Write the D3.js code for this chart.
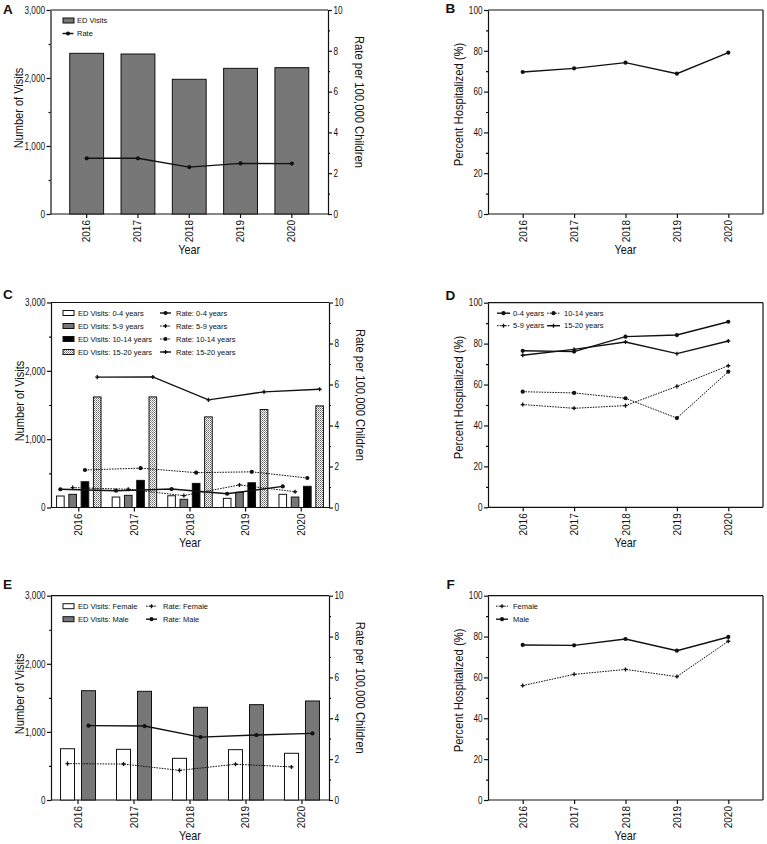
<!DOCTYPE html>
<html>
<head>
<meta charset="utf-8">
<script src="https://cdn.jsdelivr.net/npm/d3@7"></script>
<style>
body { margin: 0; background: #fff; }
</style>
</head>
<body>
<script>
var years = ['2016', '2017', '2018', '2019', '2020'];

// A / B: all ages
var visitsAll = [2363, 2353, 1981, 2142, 2152];
var rateAll = [2.73, 2.73, 2.30, 2.48, 2.47];
var hospAll = [69.6, 71.4, 74.2, 68.8, 79.1];

// C / D: by age group
var ageGroups = ['0-4 years', '5-9 years', '10-14 years', '15-20 years'];
var visits0to4 = [168, 153, 172, 134, 193];
var visits5to9 = [193, 178, 120, 222, 153];
var visits10to14 = [377, 397, 353, 362, 310];
var visits15to20 = [1618, 1618, 1326, 1434, 1487];
var rate0to4 = [0.89, 0.82, 0.90, 0.67, 1.03];
var rate5to9 = [0.97, 0.89, 0.58, 1.10, 0.77];
var rate10to14 = [1.83, 1.92, 1.70, 1.74, 1.44];
var rate15to20 = [6.36, 6.37, 5.25, 5.64, 5.77];
var hosp0to4 = [76.5, 76.1, 83.4, 84.2, 90.7];
var hosp5to9 = [50.2, 48.4, 49.7, 59.1, 69.2];
var hosp10to14 = [56.5, 55.9, 53.3, 43.6, 66.3];
var hosp15to20 = [74.3, 77.2, 80.8, 75.1, 81.3];

// E / F: by sex
var sexes = ['Female', 'Male'];
var visitsFemale = [753, 744, 612, 739, 686];
var visitsMale = [1605, 1596, 1361, 1400, 1454];
var rateFemale = [1.78, 1.76, 1.45, 1.75, 1.62];
var rateMale = [3.64, 3.62, 3.08, 3.18, 3.26];
var hospFemale = [56.0, 61.5, 63.9, 60.4, 77.7];
var hospMale = [75.9, 75.7, 78.8, 73.1, 79.8];

// axis ticks
var visitTicks = [0, 1000, 2000, 3000];
var visitMinor = [500, 1500, 2500];
var rateTicks = [0, 2, 4, 6, 8, 10];
var rateMinor = [1, 3, 5, 7, 9];
var pctTicks = [0, 20, 40, 60, 80, 100];
var pctMinor = [10, 30, 50, 70, 90];

var font = '"Liberation Sans", Arial, Helvetica, sans-serif';
var ink = '#111';
var grey = '#777';
var squeeze = 0.82; // the figure's text is set in a narrow face

var svg = d3.select('body').append('svg')
    .attr('width', 767)
    .attr('height', 844);

var pat = svg.append('defs').append('pattern')
    .attr('id', 'stipple')
    .attr('patternUnits', 'userSpaceOnUse')
    .attr('width', 2)
    .attr('height', 2);
pat.append('rect').attr('width', 2).attr('height', 2).attr('fill', '#fff');
pat.append('rect').attr('width', 1).attr('height', 1).attr('fill', '#666');
pat.append('rect').attr('x', 1).attr('y', 1).attr('width', 1).attr('height', 1).attr('fill', '#999');

function styleAxis(g, size) {
    g.attr('font-family', font).attr('font-size', size);
    g.selectAll('path, line').attr('stroke', ink).attr('stroke-width', 1.2);
    g.selectAll('text').attr('fill', ink);
}

function squeezeTicks(ax, side) {
    ax.selectAll('.tick text')
	.attr('x', side * 5.5 / squeeze)
	.attr('transform', 'scale(' + squeeze + ',1)');
}

function addText(g, x, y, str, size, anchor, rot, sq) {
    var t = g.append('text')
	.attr('transform', 'translate(' + x + ',' + y + ')' +
	      (rot ? ' rotate(' + rot + ')' : '') +
	      (sq ? ' scale(' + sq + ',1)' : ''))
	.attr('font-family', font)
	.attr('font-size', size)
	.attr('fill', ink)
	.attr('text-anchor', anchor || 'start')
	.text(str);
    return t;
}

// frame: left axis, top border, x axis, titles, panel letter
function drawFrame(box, x, y, major, minor, fmt, title, letter, letterPos) {
    var g = svg.append('g');
    var mid = (box.t + box.b) / 2;

    var ax = g.append('g').attr('transform', 'translate(' + box.l + ',0)');
    ax.append('g')
	.call(d3.axisLeft(y).tickValues(minor).tickSize(2).tickFormat(''))
	.select('.domain').remove();
    ax.append('g')
	.call(d3.axisLeft(y).tickValues(major).tickSize(4).tickSizeOuter(0)
	      .tickPadding(1.5).tickFormat(fmt));
    styleAxis(ax, 10);
    squeezeTicks(ax, -1);

    var xa = g.append('g').attr('transform', 'translate(0,' + box.b + ')');
    xa.call(d3.axisBottom(x).tickSize(4).tickSizeOuter(0));
    xa.select('.domain').attr('d', 'M' + box.l + ',0H' + box.r);
    xa.selectAll('.tick text')
	.attr('transform', 'rotate(-90)')
	.attr('text-anchor', 'end')
	.attr('x', -6)
	.attr('y', 0)
	.attr('dy', '0.35em');
    styleAxis(xa, 10);

    g.append('line')
	.attr('x1', box.l).attr('x2', box.r)
	.attr('y1', box.t).attr('y2', box.t)
	.attr('stroke', ink).attr('stroke-width', 1.2);

    if (title === 'Number of Visits') {
	addText(g, box.l - 27.5, mid - 4, title, 13, 'middle', -90, 0.85);
    } else {
	addText(g, box.l - 25.5, mid - 7.5, title, 12.5, 'middle', -90, 0.9);
    }
    addText(g, (box.l + box.r) / 2, box.b + 39.5, 'Year', 12, 'middle', 0, 0.9);
    addText(g, letterPos[0], letterPos[1], letter, 13.5, 'start').attr('font-weight', 'bold');
    return g;
}

function drawRightAxis(g, box, yR) {
    var ax = g.append('g').attr('transform', 'translate(' + box.r + ',0)');
    ax.append('g')
	.call(d3.axisRight(yR).tickValues(rateMinor).tickSize(2).tickFormat(''))
	.select('.domain').remove();
    ax.append('g')
	.call(d3.axisRight(yR).tickValues(rateTicks).tickSize(4).tickSizeOuter(0)
	      .tickPadding(1.5).tickFormat(d3.format('d')));
    styleAxis(ax, 10);
    squeezeTicks(ax, 1);
    addText(g, box.r + 27, (box.t + box.b) / 2 - 10, 'Rate per 100,000 Children', 12, 'middle', 90, 0.94);
}

function drawRightBorder(g, box) {
    g.append('line')
	.attr('x1', box.r).attr('x2', box.r)
	.attr('y1', box.t).attr('y2', box.b)
	.attr('stroke', ink).attr('stroke-width', 1.2);
}

function drawMarker(g, kind, cx, cy) {
    if (kind === 'circle') {
	g.append('circle').attr('cx', cx).attr('cy', cy).attr('r', 2.1).attr('fill', ink);
    } else {
	g.append('path')
	    .attr('d', d3.symbol(d3.symbolCross, 9)())
	    .attr('transform', 'translate(' + cx + ',' + cy + ')')
	    .attr('fill', ink);
    }
}

function drawBars(g, x, xIn, y, keys, seriesList, fills) {
    keys.forEach(function(k, i) {
	g.selectAll(null)
	    .data(seriesList[i])
	    .enter().append('rect')
	    .attr('x', function(d, j) { return x(years[j]) + xIn(k); })
	    .attr('y', function(d) { return y(d); })
	    .attr('width', xIn.bandwidth())
	    .attr('height', function(d) { return y(0) - y(d); })
	    .attr('fill', fills[i])
	    .attr('stroke', ink)
	    .attr('stroke-width', 1);
    });
}

function drawLine(g, xf, y, values, dashed, marker) {
    var line = d3.line()
	.x(function(d, j) { return xf(j); })
	.y(function(d) { return y(d); });
    g.append('path')
	.datum(values)
	.attr('d', line)
	.attr('fill', 'none')
	.attr('stroke', ink)
	.attr('stroke-width', dashed ? 1 : 1.4)
	.attr('stroke-dasharray', dashed ? '1.6,1.1' : null);
    values.forEach(function(v, j) {
	drawMarker(g, marker, xf(j), y(v));
    });
}

// legend entries: bar swatch or line sample
function legendBar(g, x, y, fill, label, textX) {
    g.append('rect')
	.attr('x', x).attr('y', y - 2.5)
	.attr('width', 11).attr('height', 5)
	.attr('fill', fill).attr('stroke', ink).attr('stroke-width', 1);
    addText(g, textX, y, label, 7.5).attr('dy', '0.35em');
}

function legendLine(g, x, w, y, dashed, marker, label, textX) {
    g.append('line')
	.attr('x1', x).attr('x2', x + w)
	.attr('y1', y).attr('y2', y)
	.attr('stroke', ink)
	.attr('stroke-width', dashed ? 1 : 1.4)
	.attr('stroke-dasharray', dashed ? '1.6,1.1' : null);
    drawMarker(g, marker, x + w / 2, y);
    addText(g, textX, y, label, 7.5).attr('dy', '0.35em');
}

function bandCenter(x, xIn, key) {
    return function(j) { return x(years[j]) + xIn(key) + xIn.bandwidth() / 2; };
}

// ---------- Panel A ----------
(function() {
    var box = {l: 50.5, r: 328, t: 10, b: 214};
    var x = d3.scaleBand().domain(years).range([box.l, box.r]).paddingInner(0.34).paddingOuter(0.375);
    var y = d3.scaleLinear().domain([0, 3000]).range([box.b, box.t]);
    var yR = d3.scaleLinear().domain([0, 10]).range([box.b, box.t]);
    var xIn = d3.scaleBand().domain(['all']).range([0, x.bandwidth()]);
    var g = drawFrame(box, x, y, visitTicks, visitMinor, d3.format(','), 'Number of Visits', 'A', [3, 13.5]);
    drawRightAxis(g, box, yR);
    drawBars(g, x, xIn, y, ['all'], [visitsAll], [grey]);
    drawLine(g, bandCenter(x, xIn, 'all'), yR, rateAll, false, 'circle');
    var ly = box.t + 10.5;
    legendBar(g, 63, ly, grey, 'ED Visits', 77);
    legendLine(g, 62.5, 11, ly + 13, false, 'circle', 'Rate', 77);
})();

// ---------- Panel B ----------
(function() {
    var box = {l: 488, r: 763, t: 10, b: 214};
    var x = d3.scalePoint().domain(years).range([box.l, box.r]).padding(0.675);
    var y = d3.scaleLinear().domain([0, 100]).range([box.b, box.t]);
    var g = drawFrame(box, x, y, pctTicks, pctMinor, d3.format('d'), 'Percent Hospitalized (%)', 'B', [445.5, 13]);
    drawRightBorder(g, box);
    drawLine(g, function(j) { return x(years[j]); }, y, hospAll, false, 'circle');
})();

// ---------- Panel C ----------
(function() {
    var box = {l: 51, r: 329, t: 302.5, b: 507.5};
    var x = d3.scaleBand().domain(years).range([box.l, box.r]).paddingInner(0.2).paddingOuter(0.1);
    var y = d3.scaleLinear().domain([0, 3000]).range([box.b, box.t]);
    var yR = d3.scaleLinear().domain([0, 10]).range([box.b, box.t]);
    var xIn = d3.scaleBand().domain(ageGroups).range([0, x.bandwidth()]).paddingInner(0.38);
    var fills = ['#fff', grey, '#000', 'url(#stipple)'];
    var g = drawFrame(box, x, y, visitTicks, visitMinor, d3.format(','), 'Number of Visits', 'C', [3, 298.5]);
    drawRightAxis(g, box, yR);
    drawBars(g, x, xIn, y, ageGroups,
	     [visits0to4, visits5to9, visits10to14, visits15to20], fills);
    drawLine(g, bandCenter(x, xIn, ageGroups[0]), yR, rate0to4, false, 'circle');
    drawLine(g, bandCenter(x, xIn, ageGroups[1]), yR, rate5to9, true, 'cross');
    drawLine(g, bandCenter(x, xIn, ageGroups[2]), yR, rate10to14, true, 'circle');
    drawLine(g, bandCenter(x, xIn, ageGroups[3]), yR, rate15to20, false, 'cross');
    var rates = [[false, 'circle'], [true, 'cross'], [true, 'circle'], [false, 'cross']];
    ageGroups.forEach(function(a, i) {
	var ly = box.t + 10.5 + 13 * i;
	legendBar(g, 63, ly, fills[i], 'ED Visits: ' + a, 78);
	legendLine(g, 160, 11, ly, rates[i][0], rates[i][1], 'Rate: ' + a, 176);
    });
})();

// ---------- Panel D ----------
(function() {
    var box = {l: 488, r: 763, t: 302.7, b: 507.3};
    var x = d3.scalePoint().domain(years).range([box.l, box.r]).padding(0.675);
    var y = d3.scaleLinear().domain([0, 100]).range([box.b, box.t]);
    var g = drawFrame(box, x, y, pctTicks, pctMinor, d3.format('d'), 'Percent Hospitalized (%)', 'D', [445.5, 300]);
    drawRightBorder(g, box);
    var xf = function(j) { return x(years[j]); };
    drawLine(g, xf, y, hosp0to4, false, 'circle');
    drawLine(g, xf, y, hosp5to9, true, 'cross');
    drawLine(g, xf, y, hosp10to14, true, 'circle');
    drawLine(g, xf, y, hosp15to20, false, 'cross');
    var ly = box.t + 10.5;
    legendLine(g, 497, 13, ly, false, 'circle', ageGroups[0], 513);
    legendLine(g, 497, 13, ly + 12.5, true, 'cross', ageGroups[1], 513);
    legendLine(g, 547, 13, ly, true, 'circle', ageGroups[2], 564);
    legendLine(g, 547, 13, ly + 12.5, false, 'cross', ageGroups[3], 564);
})();

// ---------- Panel E ----------
(function() {
    var box = {l: 51, r: 329, t: 595.7, b: 800};
    var x = d3.scaleBand().domain(years).range([box.l, box.r]).paddingInner(0.375).paddingOuter(0.17);
    var y = d3.scaleLinear().domain([0, 3000]).range([box.b, box.t]);
    var yR = d3.scaleLinear().domain([0, 10]).range([box.b, box.t]);
    var xIn = d3.scaleBand().domain(sexes).range([0, x.bandwidth()]).paddingInner(1 / 3);
    var fills = ['#fff', grey];
    var g = drawFrame(box, x, y, visitTicks, visitMinor, d3.format(','), 'Number of Visits', 'E', [3, 588.5]);
    drawRightAxis(g, box, yR);
    drawBars(g, x, xIn, y, sexes, [visitsFemale, visitsMale], fills);
    drawLine(g, bandCenter(x, xIn, 'Female'), yR, rateFemale, true, 'cross');
    drawLine(g, bandCenter(x, xIn, 'Male'), yR, rateMale, false, 'circle');
    var ly = box.t + 10.5;
    legendBar(g, 63, ly, fills[0], 'ED Visits: Female', 78);
    legendBar(g, 63, ly + 13, fills[1], 'ED Visits: Male', 78);
    legendLine(g, 146, 11, ly, true, 'cross', 'Rate: Female', 163);
    legendLine(g, 146, 11, ly + 13, false, 'circle', 'Rate: Male', 163);
})();

// ---------- Panel F ----------
(function() {
    var box = {l: 488, r: 763, t: 595.7, b: 800};
    var x = d3.scalePoint().domain(years).range([box.l, box.r]).padding(0.675);
    var y = d3.scaleLinear().domain([0, 100]).range([box.b, box.t]);
    var g = drawFrame(box, x, y, pctTicks, pctMinor, d3.format('d'), 'Percent Hospitalized (%)', 'F', [446.5, 589]);
    drawRightBorder(g, box);
    var xf = function(j) { return x(years[j]); };
    drawLine(g, xf, y, hospFemale, true, 'cross');
    drawLine(g, xf, y, hospMale, false, 'circle');
    var ly = box.t + 10.5;
    legendLine(g, 496, 12, ly, true, 'cross', 'Female', 513);
    legendLine(g, 496, 12, ly + 13, false, 'circle', 'Male', 513);
})();
</script>
</body>
</html>
